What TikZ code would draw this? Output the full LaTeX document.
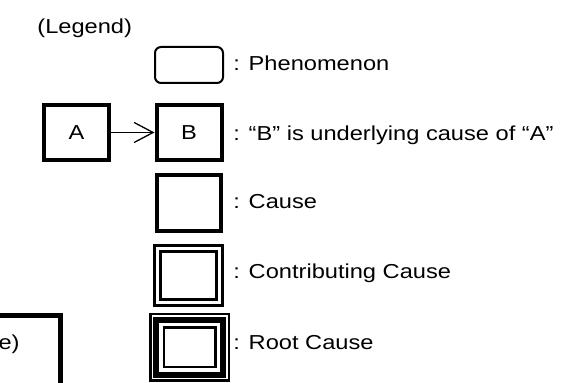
\documentclass[tikz,border=0pt]{standalone}
\usepackage{fontspec}
\setmainfont{Liberation Sans}[FakeStretch=1.17]
\usetikzlibrary{arrows.meta}

\begin{document}
\begin{tikzpicture}[x=0.5pt,y=-0.5pt,>={Straight Barb[length=9.5pt,width=10pt]},font=\fontsize{10.1pt}{12pt}\selectfont,
    phenom/.style={draw,line width=1pt,rounded corners=3pt,minimum width=34pt,minimum height=18pt,inner sep=0pt},
    causebox/.style={draw,line width=2pt,minimum width=32.5pt,minimum height=27.5pt,inner sep=0pt},
    contribbox/.style={draw,double,line width=1.5pt,double distance=1.5pt,minimum width=31pt,minimum height=27pt,inner sep=0pt},
    rootbox/.style={draw,double,line width=1.25pt,double distance=5.5pt,minimum width=32.5pt,minimum height=26.5pt,inner sep=0pt},
    rootmid/.style={draw,line width=3pt,minimum width=33.5pt,minimum height=27.5pt,inner sep=0pt},
    legtext/.style={anchor=base west,inner sep=0pt}]
                \useasboundingbox (0,0) rectangle (572,383);
                \node[legtext] (title) at (37,33.3) {(Legend)};
                \node[phenom] (phen) at (189,65) {};
                \node[legtext] (phentext) at (233,71) {: Phenomenon};
                \node[causebox] (a) at (76.5,132.5) {A};
                \node[causebox] (b) at (189,132.5) {B};
                \draw[->,line width=0.65pt] (a) -- (b);
                \node[legtext] (btext) at (233,140.7) {: “B” is underlying cause of “A”};
                \node[causebox,minimum width=32pt,minimum height=28pt] (cause) at (189,203) {};
                \node[legtext] (causetext) at (233,209) {: Cause};
                \node[contribbox] (contrib) at (188.5,275.5) {};
                \node[legtext] (contribtext) at (233,278.3) {: Contributing Cause};
                \node[rootbox] (root) at (189.5,347.5) {};
                \node[rootmid] (rootm) at (189.5,347.5) {};
                \node[legtext] (roottext) at (233,349.3) {: Root Cause};
                \node[draw,line width=2.5pt,minimum width=75pt,minimum height=52.25pt] (part) at (-15,367.75) {};
                \node[anchor=base east,inner sep=0pt] (parttext) at (20,349.5) {e)};
            \end{tikzpicture}
\end{document}
